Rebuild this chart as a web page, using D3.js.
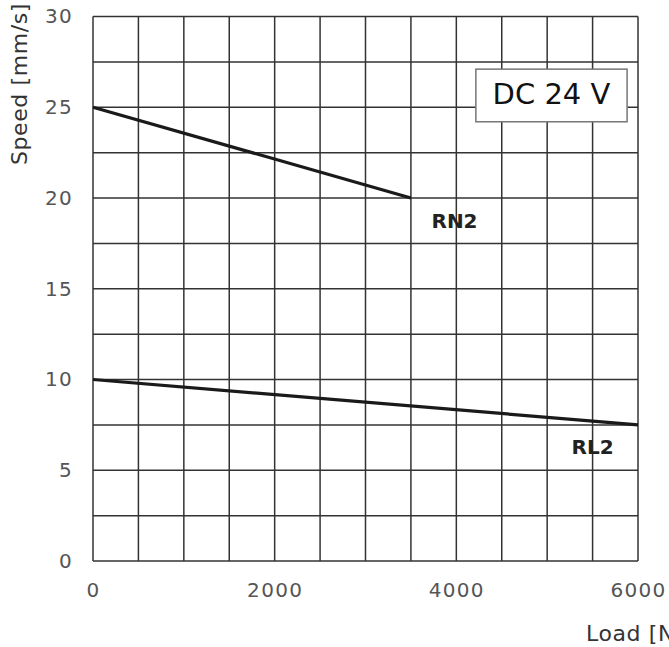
<!DOCTYPE html>
<html>
<head>
<meta charset="utf-8">
<script src="https://cdn.jsdelivr.net/npm/d3@7"></script>
<style>
  body { margin: 0; background: #fff; }
  text { font-family: "DejaVu Sans", "Liberation Sans", sans-serif; }
</style>
</head>
<body>
<div id="chart"></div>
<script>
// data
const xTicks = [0, 2000, 4000, 6000];
const yTicks = [0, 5, 10, 15, 20, 25, 30];
const seriesNames = ['RN2', 'RL2'];
const rn2Load = [0, 3500];
const rn2Speed = [25, 20];
const rl2Load = [0, 6000];
const rl2Speed = [10, 7.5];
const boxLabel = 'DC 24 V';

// size and margins
const width = 669;
const height = 647;
const margin = { top: 16.5, right: 31, bottom: 86, left: 93 };
const plotW = width - margin.left - margin.right;
const plotH = height - margin.top - margin.bottom;

const svg = d3.select('#chart')
  .append('svg')
    .attr('width', width)
    .attr('height', height);

const g = svg.append('g')
  .attr('transform', `translate(${margin.left},${margin.top})`);

const x = d3.scaleLinear().domain([0, 6000]).range([0, plotW]);
const y = d3.scaleLinear().domain([0, 30]).range([plotH, 0]);

// grid, every 500 N and every 2.5 mm/s
const gridX = d3.range(0, 6001, 500);
const gridY = d3.range(0, 30.1, 2.5);
g.selectAll('.vgrid')
  .data(gridX)
  .join('line')
    .attr('x1', d => x(d)).attr('x2', d => x(d))
    .attr('y1', 0).attr('y2', plotH)
    .attr('stroke', '#333').attr('stroke-width', 1.5);
g.selectAll('.hgrid')
  .data(gridY)
  .join('line')
    .attr('x1', 0).attr('x2', plotW)
    .attr('y1', d => y(d)).attr('y2', d => y(d))
    .attr('stroke', '#333').attr('stroke-width', 1.5);

// axes: only tick labels are shown
const xAxis = g.append('g')
  .attr('transform', `translate(0,${plotH})`)
  .call(d3.axisBottom(x).tickValues(xTicks).tickFormat(d3.format('d')).tickSize(0).tickPadding(22));
const yAxis = g.append('g')
  .call(d3.axisLeft(y).tickValues(yTicks).tickFormat(d3.format('d')).tickSize(0).tickPadding(20));
[xAxis, yAxis].forEach(a => {
  a.select('.domain').remove();
  a.selectAll('text')
    .style('font-family', '"DejaVu Sans", sans-serif')
    .style('font-size', '20px')
    .style('letter-spacing', '1.3px')
    .attr('fill', '#555');
});

// lines
const line = d3.line().x(d => x(d[0])).y(d => y(d[1]));
const series = [
  { name: seriesNames[0], pts: d3.zip(rn2Load, rn2Speed), label: [3980, 18.65] },
  { name: seriesNames[1], pts: d3.zip(rl2Load, rl2Speed), label: [5500, 6.2] }
];
g.selectAll('.series')
  .data(series)
  .join('path')
    .attr('d', d => line(d.pts))
    .attr('fill', 'none')
    .attr('stroke', '#1a1a1a')
    .attr('stroke-width', 3.2);

g.selectAll('.slabel')
  .data(series)
  .join('text')
    .attr('x', d => x(d.label[0]))
    .attr('y', d => y(d.label[1]))
    .attr('text-anchor', 'middle')
    .attr('dominant-baseline', 'middle')
    .style('font-size', '20px')
    .style('font-weight', 'bold')
    .attr('fill', '#222')
    .text(d => d.name);

// DC 24 V box
const bx0 = x(4215), bx1 = x(5880);
const by0 = y(27.1), by1 = y(24.2);
g.append('rect')
  .attr('x', bx0).attr('y', by0)
  .attr('width', bx1 - bx0).attr('height', by1 - by0)
  .attr('fill', '#fff')
  .attr('stroke', '#777').attr('stroke-width', 1.5);
g.append('text')
  .attr('x', (bx0 + bx1) / 2)
  .attr('y', (by0 + by1) / 2 + 1)
  .attr('text-anchor', 'middle')
  .attr('dominant-baseline', 'middle')
  .style('font-size', '29px')
  .attr('fill', '#111')
  .text(boxLabel);

// axis titles (the reference cuts "Load [N]" at the right edge too)
svg.append('text')
  .attr('transform', 'translate(27,3) rotate(-90)')
  .attr('text-anchor', 'end')
  .style('font-size', '22px')
  .style('letter-spacing', '0.6px')
  .attr('fill', '#333')
  .text('Speed [mm/s]');
svg.append('text')
  .attr('x', 586)
  .attr('y', 641)
  .style('font-size', '22px')
  .style('letter-spacing', '0.6px')
  .attr('fill', '#333')
  .text('Load [N]');
</script>
</body>
</html>
